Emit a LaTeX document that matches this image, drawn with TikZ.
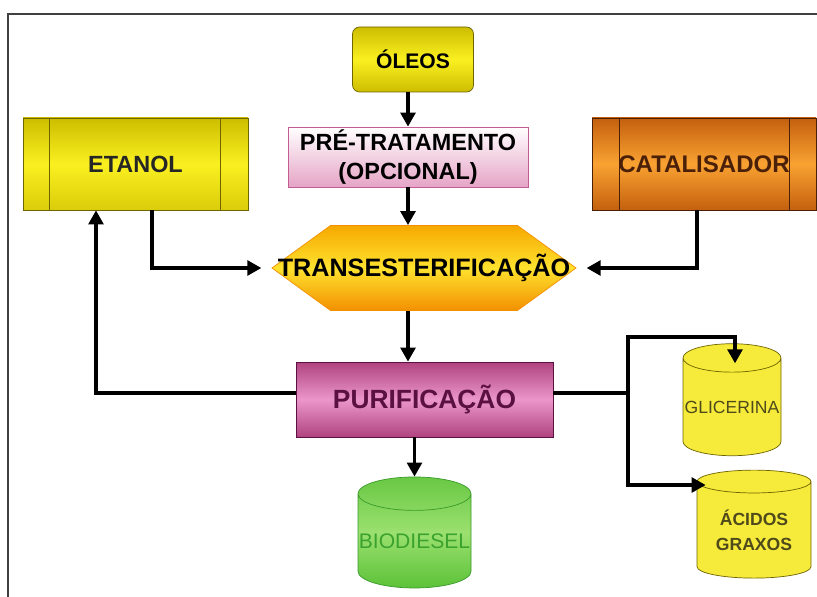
\documentclass[tikz,border=0pt]{standalone}
\usepackage{fontspec}
\setmainfont{Liberation Sans}
\usetikzlibrary{arrows.meta,shapes.geometric,shapes.symbols}

\definecolor{amareloEsc}{HTML}{CDBD00}
\definecolor{amareloCla}{HTML}{FAF020}
\definecolor{amareloBorda}{HTML}{6E6400}
\definecolor{laranjaEsc}{HTML}{C4600E}
\definecolor{laranjaCla}{HTML}{F9A232}
\definecolor{laranjaBorda}{HTML}{4A2008}
\definecolor{rosaCla}{HTML}{FFFFFF}
\definecolor{rosaEsc}{HTML}{E6A4C6}
\definecolor{rosaBorda}{HTML}{C25C92}
\definecolor{hexTopo}{HTML}{F6A800}
\definecolor{hexMeio}{HTML}{FFE22E}
\definecolor{hexBase}{HTML}{F29000}
\definecolor{magentaEsc}{HTML}{B0437F}
\definecolor{magentaCla}{HTML}{EB96CB}
\definecolor{magentaBorda}{HTML}{5A1040}
\definecolor{verdeCla}{HTML}{9BE070}
\definecolor{verdeEsc}{HTML}{5CC238}
\definecolor{verdeBorda}{HTML}{3A9A2A}
\definecolor{verdeTexto}{HTML}{3BA22E}
\definecolor{tanqueAm}{HTML}{F6EA3A}
\definecolor{oliva}{HTML}{4F4A1C}

\def\pxu{0.03cm}

\begin{document}
\begin{tikzpicture}[x=0.03cm,y=-0.03cm,
    caixa/.style={draw,line width=0.6pt,inner sep=0pt,align=center,font=\bfseries},
    tanque/.style={cylinder,shape border rotate=90,aspect=0.3,draw,line width=0.6pt,
      inner sep=0pt,align=center},
    linha/.style={line width=3.2pt},
    seta/.style={line width=3.2pt,-{Triangle[length=0.42cm,width=0.44cm]}}]
  \useasboundingbox (0,0) rectangle (817,597);

  %------------------
  % moldura
  %------------------
  \draw[line width=1.6pt,black!75] (8,597) -- (8,14) -- (817,14);

  %------------------
  % caixas
  %------------------
  \node[caixa,rounded corners=6pt,draw=amareloBorda,top color=amareloEsc,
    bottom color=amareloEsc,middle color=amareloCla,
    minimum width=121*\pxu,minimum height=65*\pxu,
    font=\bfseries\fontsize{18}{20}\selectfont] (oleos) at (413,59.5) {ÓLEOS};

  \node[caixa,draw=rosaBorda,top color=rosaCla,bottom color=rosaEsc,
    minimum width=240*\pxu,minimum height=60*\pxu,
    font=\bfseries\fontsize{20}{25}\selectfont] (pretrat) at (408,157)
    {PRÉ-TRATAMENTO\\(OPCIONAL)};

  \node[caixa,draw=amareloBorda,top color=amareloEsc,bottom color=amareloEsc!70!amareloCla,
    middle color=amareloCla,minimum width=225*\pxu,minimum height=92*\pxu,
    font=\bfseries\fontsize{20}{22}\selectfont,text=black!85] (etanol) at (135.5,164) {ETANOL};
  \draw[amareloBorda,line width=0.6pt]
    ([xshift=27*\pxu]etanol.north west) -- ([xshift=27*\pxu]etanol.south west)
    ([xshift=-28*\pxu]etanol.north east) -- ([xshift=-28*\pxu]etanol.south east);

  \node[caixa,draw=laranjaBorda,top color=laranjaEsc,bottom color=laranjaEsc,
    middle color=laranjaCla,minimum width=224*\pxu,minimum height=92*\pxu,
    font=\bfseries\fontsize{20.5}{22}\selectfont,text=laranjaBorda] (catal) at (704,164) {CATALISADOR};
  \draw[laranjaBorda,line width=0.6pt]
    ([xshift=28*\pxu]catal.north west) -- ([xshift=28*\pxu]catal.south west)
    ([xshift=-27*\pxu]catal.north east) -- ([xshift=-27*\pxu]catal.south east);

  \node[caixa,signal,signal to=west and east,signal pointer angle=72,
    draw=hexBase,top color=hexTopo,bottom color=hexBase,middle color=hexMeio,
    minimum height=85*\pxu,
    font=\bfseries\fontsize{21.5}{23}\selectfont] (trans) at (424,268)
    {\makebox[5.61cm]{TRANSESTERIFICAÇÃO}};

  \node[caixa,draw=magentaBorda,top color=magentaEsc,bottom color=magentaEsc,
    middle color=magentaCla,minimum width=257*\pxu,minimum height=75*\pxu,
    font=\bfseries\fontsize{22.5}{24}\selectfont,text=magentaBorda] (purif) at (424.5,399.5) {PURIFICAÇÃO};

  %------------------
  % tanques
  %------------------
  \node[tanque,draw=verdeBorda,top color=verdeEsc!80!verdeCla,bottom color=verdeEsc,
    middle color=verdeCla,minimum width=113*\pxu,minimum height=111*\pxu,
    font=\fontsize{18}{20}\selectfont,text=verdeTexto] (bio) at (414.5,541) {BIODIESEL};

  \node[tanque,draw=amareloBorda,fill=tanqueAm,minimum width=98*\pxu,minimum height=112*\pxu,
    font=\fontsize{15}{17}\selectfont,text=oliva] (glic) at (732,407) {GLICERINA};

  \node[tanque,draw=amareloBorda,fill=tanqueAm,minimum width=114*\pxu,minimum height=108*\pxu,
    font=\bfseries\fontsize{15}{21}\selectfont,text=oliva] (acidos) at (754,530) {ÁCIDOS\\GRAXOS};

  %------------------
  % ligações
  %------------------
  \coordinate (eixo) at (408,0);
  \coordinate (ramo) at (628,393);
  \draw[seta] (oleos.south -| eixo) -- (pretrat.north -| eixo);
  \draw[seta] (pretrat.south -| eixo) -- (trans.north -| eixo);
  \draw[seta] (trans.south -| eixo) -- (purif.north -| eixo);
  \draw[seta] (purif.south -| bio.north) -- (bio.north);

  \draw[seta] ([xshift=16.5*\pxu]etanol.south) |- ([xshift=-10*\pxu]trans.west);
  \draw[seta] ([xshift=-7*\pxu]catal.south) |- ([xshift=10*\pxu]trans.east);
  \draw[seta] (purif.west |- ramo) -| ([xshift=-39.5*\pxu]etanol.south);

  \draw[linha] (purif.east |- ramo) -- (ramo);
  \draw[seta] (ramo) -- ++(0,-56) -| ([shift={(3,20)}]glic.north);
  \draw[seta] (ramo) -- ++(0,92) -- ([shift={(9,-45)}]acidos.west);
\end{tikzpicture}
\end{document}
